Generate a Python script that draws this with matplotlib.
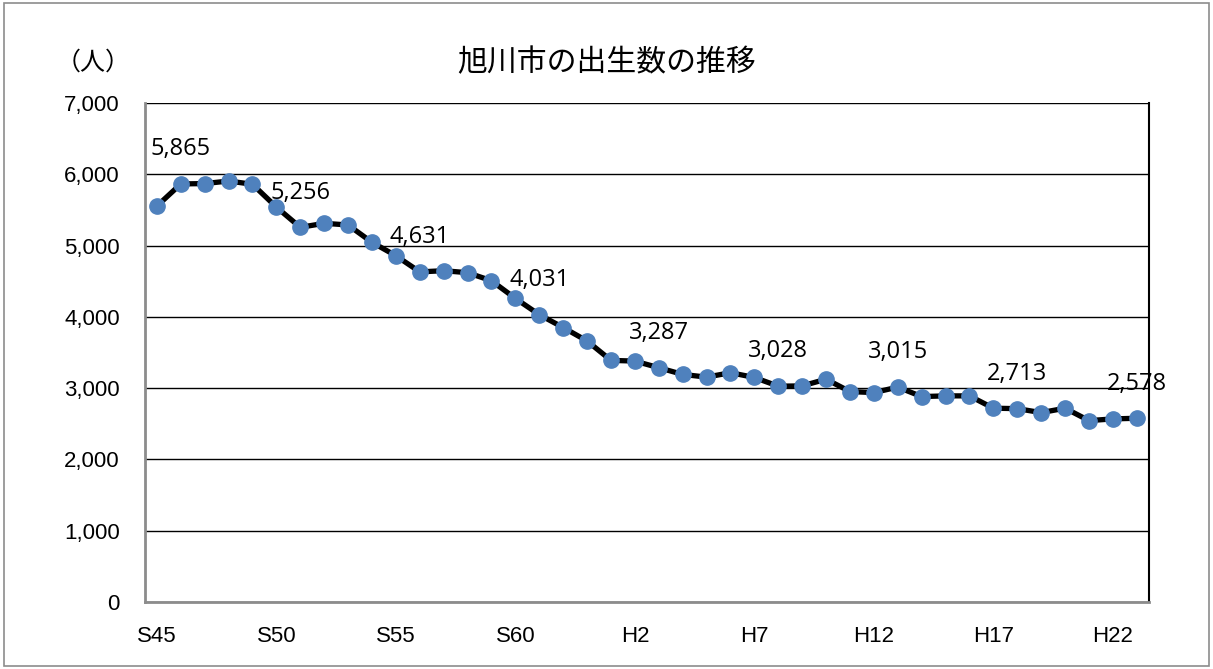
import matplotlib
matplotlib.use("Agg")
import matplotlib.pyplot as plt
from matplotlib.patches import Rectangle
from matplotlib.ticker import FuncFormatter

plt.rcParams['font.family'] = ['Noto Sans CJK JP', 'DejaVu Sans']

# -----------------------------
# Data: births per year, S45 (1970) .. H23 (2011)
# -----------------------------
births = [5555, 5865, 5870, 5906, 5860, 5540, 5256, 5313, 5289, 5046,
          4858, 4631, 4648, 4620, 4507, 4259, 4031, 3851, 3662, 3390,
          3380, 3287, 3193, 3155, 3217, 3150, 3028, 3032, 3126, 2952,
          2938, 3015, 2882, 2892, 2892, 2719, 2713, 2657, 2719, 2545,
          2569, 2578]
tick_idx = [0, 5, 10, 15, 20, 25, 30, 35, 40]
tick_labels = ["S45", "S50", "S55", "S60", "H2", "H7", "H12", "H17", "H22"]
label_idx = [1, 6, 11, 16, 21, 26, 31, 36, 41]

x = list(range(len(births)))

fig = plt.figure(figsize=(12.13, 6.69), dpi=100)
ax = fig.add_axes([0.1195, 0.1001, 0.8275, 0.7459])

# outer frame
fig.patches.append(Rectangle((0.003, 0.004), 0.994, 0.992, transform=fig.transFigure,
                             fill=False, edgecolor='#8c8c8c', linewidth=1.2))

ax.plot(x, births, color='black', linewidth=3.8, zorder=3,
        marker='o', markersize=11, markerfacecolor='#4F81BD',
        markeredgecolor='#4F81BD', clip_on=False)

for i in label_idx:
    ax.annotate(f"{births[i]:,}", (x[i], births[i]), xytext=(0, 25),
                textcoords='offset points', ha='center', va='center',
                fontsize=17, family='Open Sans', zorder=4)

ax.set_xlim(-0.5, len(births) - 0.5)
ax.set_ylim(0, 7000)
ax.set_yticks(range(0, 7001, 1000))
ax.yaxis.set_major_formatter(FuncFormatter(lambda v, p: f"{int(v):,}"))
ax.set_xticks(tick_idx)
ax.set_xticklabels(tick_labels)
ax.tick_params(axis='both', length=0, labelsize=16)
ax.tick_params(axis='y', pad=18)
ax.tick_params(axis='x', pad=17)
for lab in ax.get_xticklabels() + ax.get_yticklabels():
    lab.set_family('Liberation Sans')

ax.grid(axis='y', color='black', linewidth=1.0)
ax.set_axisbelow(True)
ax.spines['top'].set_visible(False)
ax.spines['left'].set_color('#8c8c8c')
ax.spines['left'].set_linewidth(2)
ax.spines['bottom'].set_color('#8c8c8c')
ax.spines['bottom'].set_linewidth(2)
ax.spines['right'].set_color('black')
ax.spines['right'].set_linewidth(1.5)

fig.text(0.5, 0.907, "旭川市の出生数の推移", ha='center', va='center', fontsize=21.5)
fig.text(0.077, 0.907, "（人）", ha='center', va='center', fontsize=18)

fig.savefig("out.png", dpi=100)
